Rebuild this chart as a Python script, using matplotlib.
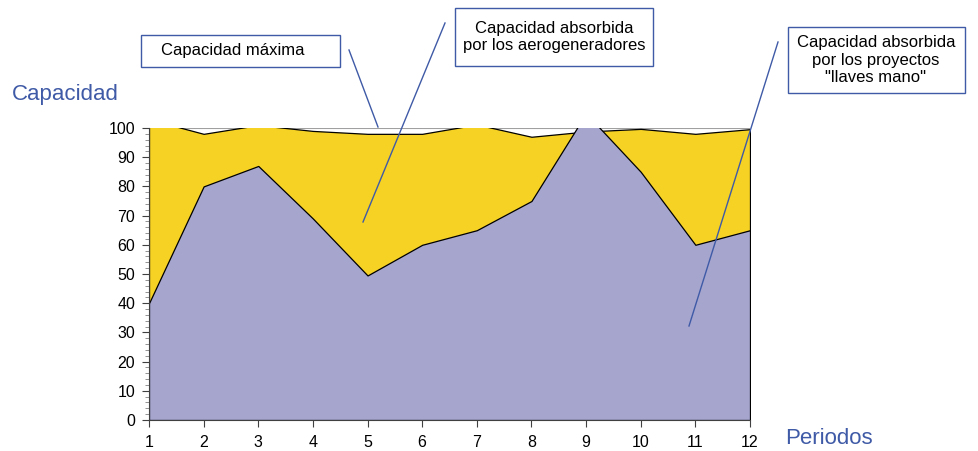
import matplotlib.pyplot as plt
from matplotlib.lines import Line2D
from matplotlib.patches import Rectangle
from matplotlib.ticker import MultipleLocator

plt.rcParams['font.family'] = ['Liberation Sans', 'DejaVu Sans']

# datos
periodos = [1, 2, 3, 4, 5, 6, 7, 8, 9, 10, 11, 12]
cap_aerogeneradores = [103, 98, 101, 99, 98, 98, 101.2, 97, 98.8, 99.7, 98, 99.6]
cap_llaves_mano = [40, 80, 87, 69, 49.5, 60, 65, 75, 105, 85, 60, 65]
cap_maxima = 100

amarillo = '#F6D224'
morado = '#A5A5CE'
azul = '#3F5AA6'

W, H = 979, 451
fig = plt.figure(figsize=(W / 100, H / 100), dpi=100)
ax = fig.add_axes([149 / W, 1 - 420 / H, (750 - 149) / W, (420 - 128) / H])

ax.axhline(cap_maxima, color='#a0a0a0', lw=1.5, zorder=0.5)
ax.fill_between(periodos, 0, cap_aerogeneradores, facecolor=amarillo,
                edgecolor='black', lw=0.9, zorder=1)
ax.fill_between(periodos, 0, cap_llaves_mano, facecolor=morado,
                edgecolor='black', lw=0.9, zorder=2)

ax.set_xlim(1, 12)
ax.set_ylim(0, 100)
ax.set_xticks(periodos)
ax.yaxis.set_major_locator(MultipleLocator(10))
ax.yaxis.set_minor_locator(MultipleLocator(2))
for s in ['top', 'right']:
    ax.spines[s].set_visible(False)
for s in ['left', 'bottom']:
    ax.spines[s].set_color('#404040')
ax.tick_params(axis='both', which='major', labelsize=11.5, length=5,
               color='#404040')
ax.tick_params(axis='y', which='major', pad=5)
ax.tick_params(axis='x', which='major', pad=6)
ax.tick_params(axis='y', which='minor', length=3, color='#808080')

def fx(px):
    return px / W

def fy(py):
    return 1 - py / H

fig.text(fx(12), fy(94), 'Capacidad', color=azul, fontsize=16, va='center', ha='left')
fig.text(fx(785), fy(439), 'Periodos', color=azul, fontsize=16, va='center', ha='left')

# cajas de texto
cajas = [
    (141, 35, 340, 67, 'Capacidad máxima', 233),
    (455, 8, 653, 66, 'Capacidad absorbida\npor los aerogeneradores', 554),
    (788, 27, 965, 93, 'Capacidad absorbida\npor los proyectos\n"llaves mano"', 876),
]
for x0, y0, x1, y1, txt, xc in cajas:
    fig.add_artist(Rectangle((fx(x0), fy(y1)), fx(x1) - fx(x0), fy(y0) - fy(y1),
                             transform=fig.transFigure, facecolor='white',
                             edgecolor=azul, lw=1.0))
    fig.text(fx(xc), fy((y0 + y1) / 2), txt, ha='center', va='center',
             fontsize=12, linespacing=1.2)

# lineas de referencia
flechas = [((349, 50), (378, 127)), ((445, 23), (363, 222)), ((778, 42), (689, 326))]
for (xa, ya), (xb, yb) in flechas:
    fig.add_artist(Line2D([fx(xa), fx(xb)], [fy(ya), fy(yb)], color=azul, lw=1.0,
                          transform=fig.transFigure, zorder=5))

fig.savefig('out.png', dpi=100)
